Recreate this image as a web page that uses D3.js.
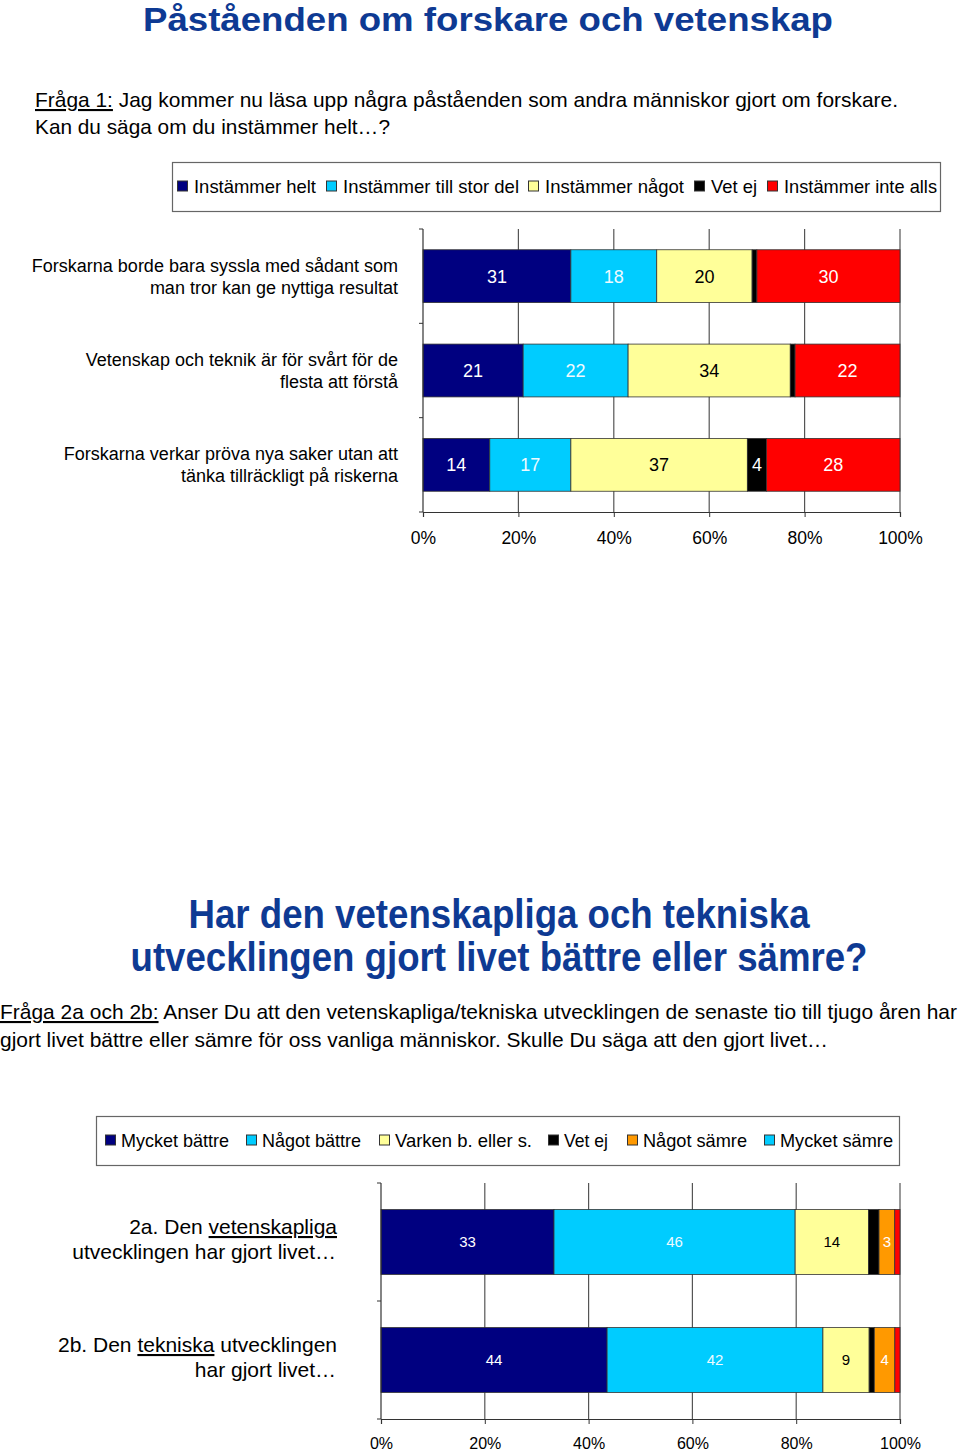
<!DOCTYPE html>
<html><head><meta charset="utf-8">
<script src="https://cdn.jsdelivr.net/npm/d3@7"></script>
<style>
html,body{margin:0;padding:0;background:#fff;}
svg{display:block;}
text{font-family:"Liberation Sans",Arial,sans-serif;}
.narrow{font-family:"Liberation Sans Narrow","Arial Narrow","Liberation Sans",Arial,sans-serif;}
</style></head>
<body>
<script>
// ---------- DATA ----------
const series1 = ["Instämmer helt","Instämmer till stor del","Instämmer något","Vet ej","Instämmer inte alls"];
const colors1 = ["#000080","#00CCFF","#FFFF99","#000000","#FF0000"];
const categories1 = [
  ["Forskarna borde bara syssla med sådant som","man tror kan ge nyttiga resultat"],
  ["Vetenskap och teknik är för svårt för de","flesta att förstå"],
  ["Forskarna verkar pröva nya saker utan att","tänka tillräckligt på riskerna"]
];
const instHelt    = [31,21,14];
const instStorDel = [18,22,17];
const instNagot   = [20,34,37];
const vetEj1      = [1,1,4];
const instInte    = [30,22,28];

const series2 = ["Mycket bättre","Något bättre","Varken b. eller s.","Vet ej","Något sämre","Mycket sämre"];
const colors2 = ["#000080","#00CCFF","#FFFF99","#000000","#FF9900","#FF0000"];
const legendColors2 = ["#000080","#00CCFF","#FFFF99","#000000","#FF9900","#00CCFF"];
const categories2 = [
  [["2a. Den ",""],["vetenskapliga","u"],["",""],["utvecklingen har gjort livet…",""]],
  [["2b. Den ",""],["tekniska","u"],[" utvecklingen",""],["har gjort livet…",""]]
];
const myckBattre = [33,44];
const nagotBattre = [46,42];
const varken = [14,9];
const vetEj2 = [2,1];
const nagotSamre = [3,4];
const myckSamre = [1,1];

const ticks = [0,20,40,60,80,100];
const tickLabels = ["0%","20%","40%","60%","80%","100%"];

// ---------- SVG ----------
const W=960,H=1453;
const svg=d3.select("body").append("svg").attr("width",W).attr("height",H);
const titleColor="#0E3A93";

// Title 1
svg.append("text").attr("x",488).attr("y",31).attr("text-anchor","middle")
  .attr("font-size",34).attr("font-weight","bold").attr("fill",titleColor)
  .attr("textLength",690).attr("lengthAdjust","spacingAndGlyphs")
  .text("Påståenden om forskare och vetenskap");

// Question 1
const q1=svg.append("text").attr("x",35).attr("y",107).attr("font-size",21).attr("fill","#000")
  .attr("textLength",863).attr("lengthAdjust","spacingAndGlyphs");
q1.append("tspan").style("text-decoration","underline").text("Fråga 1:");
q1.append("tspan").text(" Jag kommer nu läsa upp några påståenden som andra människor gjort om forskare.");
svg.append("text").attr("x",35).attr("y",134).attr("font-size",21).attr("fill","#000")
  .attr("textLength",355).attr("lengthAdjust","spacingAndGlyphs")
  .text("Kan du säga om du instämmer helt…?");

function legend(box, names, cols, opts){
  const g=svg.append("g");
  g.append("rect").attr("x",box[0]+0.5).attr("y",box[1]+0.5).attr("width",box[2]).attr("height",box[3])
    .attr("fill","#fff").attr("stroke","#666").attr("stroke-width",1.2);
  const cy=box[1]+box[3]/2;
  names.forEach((n,i)=>{
    const x=opts.xs[i];
    g.append("rect").attr("x",x+0.5).attr("y",cy-5.5).attr("width",10).attr("height",10)
      .attr("fill",cols[i]).attr("stroke","#333").attr("stroke-width",1);
    g.append("text").attr("x",x+opts.sw).attr("y",cy+6.5).attr("font-size",opts.fs)
      .attr("class",opts.cls||null)
      .attr("textLength",opts.tl[i]).attr("lengthAdjust","spacingAndGlyphs").text(n);
  });
}

function barChart(cfg){
  const x=d3.scaleLinear().domain([0,100]).range([cfg.x0,cfg.x1]);
  const y=d3.scaleBand().domain(d3.range(cfg.n)).range([cfg.y0,cfg.y1])
    .paddingInner(cfg.pi).paddingOuter(cfg.pi/2);
  const keys=cfg.keys;
  const rows=d3.range(cfg.n).map(i=>{const o={i};keys.forEach((k,j)=>o[k]=cfg.vals[j][i]);return o;});
  const stacked=d3.stack().keys(keys).offset(d3.stackOffsetExpand)(rows);
  const g=svg.append("g");
  g.selectAll(".grid").data(ticks.slice(1)).join("line")
    .attr("x1",d=>x(d)).attr("x2",d=>x(d)).attr("y1",cfg.y0).attr("y2",cfg.y1)
    .attr("stroke","#555").attr("stroke-width",1.2);
  stacked.forEach((s,j)=>{
    g.selectAll(null).data(s).join("rect")
      .attr("x",d=>x(d[0]*100)).attr("width",d=>x(d[1]*100)-x(d[0]*100))
      .attr("y",d=>y(d.data.i)).attr("height",y.bandwidth())
      .attr("fill",cfg.colors[j]).attr("stroke","#333").attr("stroke-width",0.8);
  });
  stacked.forEach((s,j)=>{
    const lab=s.filter(d=>cfg.vals[j][d.data.i]>=3);
    g.selectAll(null).data(lab).join("text")
      .attr("x",d=>(x(d[0]*100)+x(d[1]*100))/2)
      .attr("y",d=>y(d.data.i)+y.bandwidth()/2+cfg.lfs*0.36)
      .attr("text-anchor","middle").attr("font-size",cfg.lfs)
      .attr("fill",cfg.colors[j]==="#FFFF99"?"#000":(cfg.colors[j]==="#00CCFF"?"#eefaff":"#fff"))
      .text(d=>cfg.vals[j][d.data.i]);
  });
  const ax=svg.append("g").attr("transform",`translate(${cfg.x0},0)`);
  ax.append("line").attr("x1",0).attr("x2",0).attr("y1",cfg.y0).attr("y2",cfg.y1).attr("stroke","#333").attr("stroke-width",1.2);
  const bnd=d3.range(cfg.n+1).map(i=>cfg.y0+i*y.step());
  ax.selectAll(".t").data(bnd).join("line").attr("x1",-4).attr("x2",0).attr("y1",d=>d).attr("y2",d=>d).attr("stroke","#333");
  const bx=svg.append("g").attr("transform",`translate(0,${cfg.y1})`)
    .call(d3.axisBottom(x).tickValues(ticks).tickFormat((d,i)=>tickLabels[i]).tickSize(5).tickPadding(cfg.tp));
  bx.select(".domain").attr("stroke","#333").attr("stroke-width",1.2);
  bx.selectAll(".tick line").attr("stroke","#333");
  bx.selectAll(".tick text").attr("font-size",cfg.afs).attr("fill","#000").attr("font-family","Liberation Sans, Arial, sans-serif");
  return y;
}

// ---------- Chart 1 ----------
legend([172,162,768,49],series1,colors1,{xs:[177,326,528,694,767],tl:[122,176,139,46,153],sw:17,fs:18.5});
const y1=barChart({x0:423,x1:900,y0:229,y1:512,n:3,pi:0.44,
  keys:series1,vals:[instHelt,instStorDel,instNagot,vetEj1,instInte],colors:colors1,lfs:18,afs:17.5,tp:15});
categories1.forEach((lines,i)=>{
  const c=y1(i)+y1.bandwidth()/2;
  lines.forEach((l,k)=>{
    svg.append("text").attr("x",398).attr("y",c-4.5+k*22).attr("text-anchor","end")
      .attr("font-size",18).text(l);
  });
});

// ---------- Title 2 ----------
svg.append("text").attr("class","narrow").attr("x",499).attr("y",928).attr("text-anchor","middle")
  .attr("font-size",40).attr("font-weight","bold").attr("fill",titleColor)
  .attr("textLength",621).attr("lengthAdjust","spacingAndGlyphs")
  .text("Har den vetenskapliga och tekniska");
svg.append("text").attr("class","narrow").attr("x",499).attr("y",971).attr("text-anchor","middle")
  .attr("font-size",40).attr("font-weight","bold").attr("fill",titleColor)
  .attr("textLength",737).attr("lengthAdjust","spacingAndGlyphs")
  .text("utvecklingen gjort livet bättre eller sämre?");

// Question 2
const q2=svg.append("text").attr("class","narrow").attr("x",0).attr("y",1019).attr("font-size",21)
  .attr("textLength",957).attr("lengthAdjust","spacingAndGlyphs");
q2.append("tspan").style("text-decoration","underline").text("Fråga 2a och 2b:");
q2.append("tspan").text(" Anser Du att den vetenskapliga/tekniska utvecklingen de senaste tio till tjugo åren har");
svg.append("text").attr("class","narrow").attr("x",0).attr("y",1047).attr("font-size",21)
  .attr("textLength",828).attr("lengthAdjust","spacingAndGlyphs")
  .text("gjort livet bättre eller sämre för oss vanliga människor. Skulle Du säga att den gjort livet…");

// ---------- Chart 2 ----------
legend([96,1116,803,49],series2,legendColors2,{xs:[105,246,379,548,627,764],tl:[108,99,137,44,104,113],sw:16,fs:18.5,cls:"narrow"});
const y2=barChart({x0:381,x1:900,y0:1183,y1:1419,n:2,pi:0.45,
  keys:series2,vals:[myckBattre,nagotBattre,varken,vetEj2,nagotSamre,myckSamre],colors:colors2,lfs:15,afs:16,tp:14});
categories2.forEach((parts,i)=>{
  const c=y2(i)+y2.bandwidth()/2;
  const l1=svg.append("text").attr("x",337).attr("y",c-8).attr("text-anchor","end").attr("font-size",21);
  parts.slice(0,3).forEach(p=>{ if(p[0]) l1.append("tspan").style("text-decoration",p[1]?"underline":null).text(p[0]); });
  svg.append("text").attr("x",336).attr("y",c+17).attr("text-anchor","end").attr("font-size",21).text(parts[3][0]);
});
</script>
</body></html>
